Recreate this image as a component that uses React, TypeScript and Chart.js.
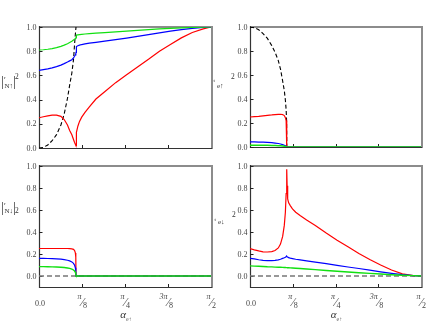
import React, { useEffect, useRef } from "react";
import { Chart, registerables } from "chart.js";
Chart.register(...registerables);

// incidence angle grid (radians); critical angle ~0.338 appears twice for the jump
const alpha = [0, 0.04, 0.08, 0.12, 0.16, 0.2, 0.23, 0.26, 0.28, 0.3, 0.315, 0.325, 0.332, 0.336, 0.338, 0.338, 0.341, 0.346, 0.355, 0.37, 0.39, 0.42, 0.46, 0.52, 0.6, 0.7, 0.8, 0.9, 1.0, 1.1, 1.2, 1.3, 1.4, 1.5, 1.5708];

// top-left |r_N↑|^2
const rNupGreen = [0.81, 0.812, 0.816, 0.822, 0.83, 0.84, 0.85, 0.862, 0.872, 0.882, 0.893, 0.9, 0.905, 0.91, 0.912, 0.93, 0.932, 0.933, 0.935, 0.937, 0.939, 0.942, 0.945, 0.949, 0.954, 0.96, 0.966, 0.972, 0.978, 0.984, 0.989, 0.993, 0.996, 0.999, 1.0];
const rNupBlue = [0.642, 0.648, 0.654, 0.662, 0.672, 0.685, 0.697, 0.71, 0.72, 0.73, 0.745, 0.758, 0.77, 0.78, 0.79, 0.825, 0.832, 0.838, 0.845, 0.85, 0.855, 0.86, 0.866, 0.873, 0.883, 0.895, 0.908, 0.922, 0.937, 0.952, 0.966, 0.978, 0.988, 0.996, 1.0];
const rNupRed = [0.25, 0.258, 0.266, 0.271, 0.272, 0.262, 0.235, 0.19, 0.145, 0.11, 0.07, 0.045, 0.03, 0.022, 0.02, 0.02, 0.09, 0.13, 0.18, 0.22, 0.255, 0.295, 0.34, 0.405, 0.465, 0.54, 0.605, 0.67, 0.733, 0.8, 0.855, 0.91, 0.955, 0.985, 1.0];
const rNupRef = [0, 0.005, 0.025, 0.06, 0.11, 0.19, 0.28, 0.41, 0.52, 0.62, 0.73, 0.86, 0.94, 0.98, 1.0, null, null, null, null, null, null, null, null, null, null, null, null, null, null, null, null, null, null, null, null];

// top-right |t_e↑|^2
const tEupGreen = [0.015, 0.015, 0.015, 0.014, 0.014, 0.013, 0.012, 0.011, 0.01, 0.008, 0.006, 0.004, 0.003, 0.002, 0, 0, 0, 0, 0, 0, 0, 0, 0, 0, 0, 0, 0, 0, 0, 0, 0, 0, 0, 0, 0];
const tEupBlue = [0.042, 0.042, 0.041, 0.04, 0.038, 0.036, 0.033, 0.029, 0.025, 0.02, 0.015, 0.01, 0.006, 0.003, 0, 0, 0, 0, 0, 0, 0, 0, 0, 0, 0, 0, 0, 0, 0, 0, 0, 0, 0, 0, 0];
const tEupRed = [0.25, 0.253, 0.256, 0.26, 0.264, 0.267, 0.27, 0.272, 0.273, 0.27, 0.262, 0.245, 0.22, 0.19, 0, 0, 0, 0, 0, 0, 0, 0, 0, 0, 0, 0, 0, 0, 0, 0, 0, 0, 0, 0, 0];
const tEupRef = [1.0, 0.994, 0.977, 0.945, 0.905, 0.845, 0.79, 0.72, 0.65, 0.55, 0.47, 0.39, 0.31, 0.22, 0, null, null, null, null, null, null, null, null, null, null, null, null, null, null, null, null, null, null, null, null];

// bottom-left |r_N↓|^2
const rNdnGreen = [0.085, 0.085, 0.084, 0.083, 0.082, 0.08, 0.077, 0.073, 0.069, 0.063, 0.055, 0.045, 0.033, 0.02, 0, 0, 0, 0, 0, 0, 0, 0, 0, 0, 0, 0, 0, 0, 0, 0, 0, 0, 0, 0, 0];
const rNdnBlue = [0.16, 0.16, 0.159, 0.158, 0.156, 0.153, 0.149, 0.143, 0.137, 0.128, 0.115, 0.098, 0.075, 0.045, 0, 0, 0, 0, 0, 0, 0, 0, 0, 0, 0, 0, 0, 0, 0, 0, 0, 0, 0, 0, 0];
const rNdnRed = [0.25, 0.25, 0.25, 0.25, 0.25, 0.25, 0.25, 0.25, 0.249, 0.247, 0.242, 0.232, 0.21, 0.17, 0, 0, 0, 0, 0, 0, 0, 0, 0, 0, 0, 0, 0, 0, 0, 0, 0, 0, 0, 0, 0];
const rNdnRef = [0, 0, 0, 0, 0, 0, 0, 0, 0, 0, 0, 0, 0, 0, 0, 0, 0, 0, 0, 0, 0, 0, 0, 0, 0, 0, 0, 0, 0, 0, 0, 0, 0, 0, 0];

// bottom-right |t_e↓|^2
const tEdnGreen = [0.092, 0.09, 0.088, 0.086, 0.084, 0.083, 0.081, 0.08, 0.079, 0.078, 0.077, 0.077, 0.076, 0.076, 0.076, 0.076, 0.076, 0.075, 0.075, 0.074, 0.073, 0.071, 0.068, 0.064, 0.058, 0.05, 0.043, 0.036, 0.03, 0.024, 0.018, 0.012, 0.007, 0.003, 0];
const tEdnBlue = [0.161, 0.155, 0.148, 0.142, 0.139, 0.139, 0.142, 0.147, 0.152, 0.16, 0.166, 0.171, 0.176, 0.179, 0.18, 0.18, 0.176, 0.172, 0.167, 0.162, 0.158, 0.152, 0.146, 0.138, 0.126, 0.112, 0.097, 0.082, 0.068, 0.053, 0.038, 0.024, 0.012, 0.004, 0];
const tEdnRed = [0.249, 0.238, 0.228, 0.22, 0.218, 0.222, 0.232, 0.255, 0.29, 0.36, 0.46, 0.58, 0.75, 0.88, 0.97, 0.97, 0.82, 0.7, 0.665, 0.64, 0.61, 0.58, 0.55, 0.51, 0.46, 0.39, 0.325, 0.265, 0.205, 0.15, 0.1, 0.055, 0.02, 0.004, 0];
const tEdnRef = [0, 0, 0, 0, 0, 0, 0, 0, 0, 0, 0, 0, 0, 0, 0, 0, 0, 0, 0, 0, 0, 0, 0, 0, 0, 0, 0, 0, 0, 0, 0, 0, 0, 0, 0];

const PI = Math.PI;
const xTickValues = [0, PI / 8, PI / 4, (3 * PI) / 8, PI / 2];
const xTickNum = ["0.0", "π", "π", "3π", "π"];
const xTickDen = ["", "8", "4", "8", "2"];
const yTickValues = [0, 0.2, 0.4, 0.6, 0.8, 1.0];
const yTickLabels = ["0.0", "0.2", "0.4", "0.6", "0.8", "1.0"];

const W = 436;
const H = 327;
const SERIF = "'Liberation Serif', 'DejaVu Serif', serif";
const RED = "#ff0000";
const BLUE = "#0000ff";
const GREEN = "#11e011";

type Series = { data: (number | null)[]; color: string; dash?: number[]; width: number };
type Panel = {
  id: string;
  box: { l: number; t: number; r: number; b: number };
  yMin: number;
  yMax: number;
  xLabels: boolean;
  series: Series[];
  label: { main: string; sub: string; bars: boolean; mainXY: number[]; subXY: number[]; supXY: number[]; barXY?: number[] };
};

const panels: Panel[] = [
  {
    id: "tl",
    box: { l: 39, t: 27, r: 211, b: 148 },
    yMin: 0,
    yMax: 1,
    xLabels: false,
    series: [
      { data: rNupGreen, color: GREEN, width: 1.2 },
      { data: rNupBlue, color: BLUE, width: 1.2 },
      { data: rNupRed, color: RED, width: 1.2 },
      { data: rNupRef, color: "#000", dash: [4, 2.5], width: 1.1 },
    ],
    label: { main: "r", sub: "N↑", bars: true, mainXY: [4, 79], subXY: [4.5, 88], supXY: [15, 79], barXY: [1, 13, 86] },
  },
  {
    id: "tr",
    box: { l: 250, t: 27, r: 421, b: 147 },
    yMin: 0,
    yMax: 1,
    xLabels: false,
    series: [
      { data: tEupGreen, color: GREEN, width: 1.4 },
      { data: tEupBlue, color: BLUE, width: 1.2 },
      { data: tEupRed, color: RED, width: 1.2 },
      { data: tEupRef, color: "#000", dash: [4, 2.5], width: 1.1 },
    ],
    label: { main: "t", sub: "e↑", bars: false, mainXY: [213.5, 82], subXY: [217, 88], supXY: [231, 79] },
  },
  {
    id: "bl",
    box: { l: 39, t: 166, r: 211, b: 287 },
    yMin: -0.1,
    yMax: 1,
    xLabels: true,
    series: [
      { data: rNdnGreen, color: GREEN, width: 1.4 },
      { data: rNdnBlue, color: BLUE, width: 1.2 },
      { data: rNdnRed, color: RED, width: 1.2 },
      { data: rNdnRef, color: "#777", dash: [5, 3], width: 1.6 },
    ],
    label: { main: "r", sub: "N↓", bars: true, mainXY: [4, 205], subXY: [4.5, 213], supXY: [15, 213], barXY: [1, 13, 212] },
  },
  {
    id: "br",
    box: { l: 250, t: 166, r: 421, b: 287 },
    yMin: -0.1,
    yMax: 1,
    xLabels: true,
    series: [
      { data: tEdnGreen, color: GREEN, width: 1.4 },
      { data: tEdnBlue, color: BLUE, width: 1.2 },
      { data: tEdnRed, color: RED, width: 1.2 },
      { data: tEdnRef, color: "#777", dash: [5, 3], width: 1.6 },
    ],
    label: { main: "t", sub: "e↓", bars: false, mainXY: [214.5, 221], subXY: [218, 224], supXY: [232, 217] },
  },
];

function makePlugin(p: Panel) {
  return {
    id: "axes_" + p.id,
    beforeDatasetsDraw(chart: any) {
      const ctx = chart.ctx as CanvasRenderingContext2D;
      const { left, top, right, bottom } = chart.chartArea;
      const xs = chart.scales.x;
      const ys = chart.scales.y;
      ctx.save();
      // frame: grey top/right, dark left/bottom
      ctx.strokeStyle = "#8c8c8c";
      ctx.lineWidth = 2;
      ctx.beginPath();
      ctx.moveTo(left, top);
      ctx.lineTo(right + 1, top);
      ctx.lineTo(right + 1, bottom + 1);
      ctx.stroke();
      ctx.strokeStyle = "#333";
      ctx.lineWidth = 1.2;
      ctx.beginPath();
      ctx.moveTo(left + 0.5, top - 1);
      ctx.lineTo(left + 0.5, bottom + 0.5);
      ctx.lineTo(right + 1, bottom + 0.5);
      ctx.stroke();
      // ticks (inward)
      ctx.lineWidth = 1;
      ctx.strokeStyle = "#222";
      ctx.beginPath();
      yTickValues.forEach((v) => {
        const py = Math.round(ys.getPixelForValue(v)) + 0.5;
        ctx.moveTo(left, py);
        ctx.lineTo(left + 3.5, py);
      });
      xTickValues.slice(1, 4).forEach((v) => {
        const px = Math.round(xs.getPixelForValue(v)) + 0.5;
        ctx.moveTo(px, bottom);
        ctx.lineTo(px, bottom - 3);
      });
      ctx.stroke();
      // y tick labels
      ctx.fillStyle = "#444";
      ctx.font = "8px " + SERIF;
      ctx.textAlign = "right";
      ctx.textBaseline = "middle";
      yTickValues.forEach((v, i) => {
        ctx.fillText(yTickLabels[i], left - 2.5, ys.getPixelForValue(v) + 0.5);
      });
      // x tick labels
      if (p.xLabels) {
        xTickValues.forEach((v, i) => {
          const px = xs.getPixelForValue(v);
          if (!xTickDen[i]) {
            ctx.font = "8px " + SERIF;
            ctx.textAlign = "center";
            ctx.textBaseline = "middle";
            ctx.fillText(xTickNum[i], px + 1, bottom + 17);
          } else {
            ctx.textBaseline = "alphabetic";
            ctx.font = "italic 8px " + SERIF;
            ctx.textAlign = "right";
            ctx.fillText(xTickNum[i], px - 0.5, bottom + 12);
            ctx.font = "12px " + SERIF;
            ctx.textAlign = "center";
            ctx.fillText("⁄", px + 0.5, bottom + 19);
            ctx.font = "8px " + SERIF;
            ctx.textAlign = "left";
            ctx.fillText(xTickDen[i], px + 1, bottom + 21);
          }
        });
        // axis title α_e↑
        const cx = (left + right) / 2;
        ctx.textAlign = "right";
        ctx.textBaseline = "alphabetic";
        ctx.font = "italic 11px " + SERIF;
        ctx.fillStyle = "#333";
        ctx.fillText("α", cx + 1, 318);
        ctx.textAlign = "left";
        ctx.font = "6px " + SERIF;
        ctx.fillStyle = "#666";
        ctx.fillText("e↑", cx + 1, 321);
      }
      // y axis label
      const lb = p.label;
      ctx.textAlign = "left";
      ctx.textBaseline = "alphabetic";
      ctx.fillStyle = "#333";
      if (lb.bars && lb.barXY) {
        ctx.font = "14px " + SERIF;
        ctx.fillText("|", lb.barXY[0], lb.barXY[2]);
        ctx.fillText("|", lb.barXY[1], lb.barXY[2]);
      }
      ctx.font = "5px " + SERIF;
      ctx.fillText(lb.main, lb.mainXY[0], lb.mainXY[1]);
      ctx.font = "7px " + SERIF;
      ctx.fillText(lb.sub, lb.subXY[0], lb.subXY[1]);
      ctx.font = "7.5px " + SERIF;
      ctx.fillText("2", lb.supXY[0], lb.supXY[1]);
      ctx.restore();
    },
  };
}

function PanelChart({ p }: { p: Panel }) {
  const ref = useRef<HTMLCanvasElement | null>(null);
  useEffect(() => {
    if (!ref.current) return;
    const chart = new Chart(ref.current, {
      type: "line",
      data: {
        datasets: p.series.map((s) => ({
          data: alpha.map((x, i) => ({ x, y: s.data[i] })),
          borderColor: s.color,
          borderWidth: s.width,
          borderDash: s.dash || [],
          pointRadius: 0,
          tension: 0,
          spanGaps: false,
          fill: false,
        })),
      },
      options: {
        responsive: false,
        animation: false,
        events: [],
        layout: { padding: { left: p.box.l, top: p.box.t, right: W - p.box.r, bottom: H - p.box.b } },
        plugins: { legend: { display: false }, tooltip: { enabled: false } },
        scales: {
          x: { type: "linear", min: 0, max: PI / 2, display: false },
          y: { type: "linear", min: p.yMin, max: p.yMax, display: false },
        },
      } as any,
      plugins: [makePlugin(p)],
    } as any);
    return () => chart.destroy();
  }, [p]);
  return <canvas ref={ref} width={W} height={H} style={{ position: "absolute", left: 0, top: 0, width: W, height: H }} />;
}

export default function App() {
  return (
    <div style={{ position: "fixed", left: 0, top: 0, width: W, height: H, background: "#fff", overflow: "hidden" }}>
      {panels.map((p) => (
        <PanelChart key={p.id} p={p} />
      ))}
    </div>
  );
}
